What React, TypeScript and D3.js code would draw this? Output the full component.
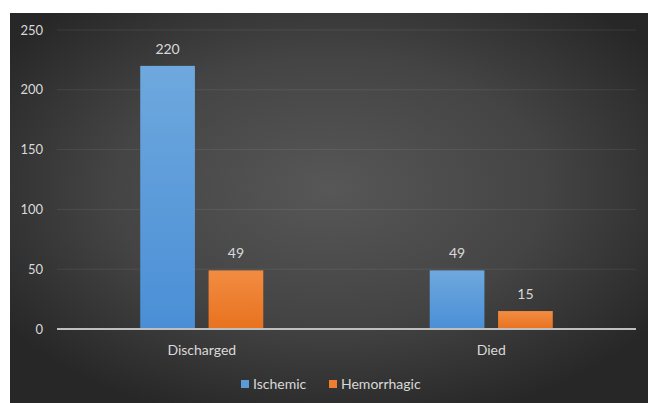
import React from "react";
import * as d3 from "d3";

const categories = ["Discharged", "Died"];
const seriesNames = ["Ischemic", "Hemorrhagic"];
const ischemic = [220, 49];
const hemorrhagic = [49, 15];
const yTicks = [0, 50, 100, 150, 200, 250];

const W = 648;
const H = 403;
const frame = { x: 10, y: 13, w: 638, h: 390 };
const plot = { left: 57, right: 636, top: 30, bottom: 329 };
const font = "Lato, 'Open Sans', sans-serif";
const textColor = "#d9d9d9";

export default function App() {
  const x0 = d3
    .scaleBand<string>()
    .domain(categories)
    .range([plot.left, plot.right])
    .paddingInner(0.575)
    .paddingOuter(0.2875);
  const x1 = d3
    .scaleBand<string>()
    .domain(seriesNames)
    .range([0, x0.bandwidth()])
    .paddingInner(0.2);
  const y = d3.scaleLinear().domain([0, 250]).range([plot.bottom, plot.top]);

  const series = [
    { name: seriesNames[0], values: ischemic, fill: "url(#gBlue)" },
    { name: seriesNames[1], values: hemorrhagic, fill: "url(#gOrange)" },
  ];

  const legendItems = [
    { name: seriesNames[0], color: "#5b9bd5", x: 241 },
    { name: seriesNames[1], color: "#ed7d31", x: 329 },
  ];

  return (
    <svg
      width={W}
      height={H}
      style={{ position: "fixed", left: 0, top: 0, background: "#fff" }}
    >
      <defs>
        <radialGradient id="bg" cx="0.5" cy="0.45" r="0.62">
          <stop offset="0" stopColor="#575757" />
          <stop offset="0.55" stopColor="#444" />
          <stop offset="1" stopColor="#272727" />
        </radialGradient>
        <linearGradient id="gBlue" x1="0" y1="0" x2="0" y2="1">
          <stop offset="0" stopColor="#6ea8de" />
          <stop offset="1" stopColor="#4a8fd6" />
        </linearGradient>
        <linearGradient id="gOrange" x1="0" y1="0" x2="0" y2="1">
          <stop offset="0" stopColor="#f28c42" />
          <stop offset="1" stopColor="#e8721f" />
        </linearGradient>
      </defs>
      <rect x={frame.x} y={frame.y} width={frame.w} height={frame.h} fill="url(#bg)" />

      {yTicks.map((t) => (
        <g key={t}>
          {t > 0 && (
            <line
              x1={plot.left}
              x2={plot.right}
              y1={y(t)}
              y2={y(t)}
              stroke="#ffffff"
              strokeOpacity={0.08}
              strokeWidth={1}
            />
          )}
          <text
            x={43}
            y={y(t)}
            dy="0.35em"
            textAnchor="end"
            fontFamily={font}
            fontSize={13}
            fill={textColor}
          >
            {t}
          </text>
        </g>
      ))}

      {series.map((s) =>
        categories.map((c, i) => {
          const bx = (x0(c) ?? 0) + (x1(s.name) ?? 0);
          const by = y(s.values[i]);
          return (
            <g key={s.name + c}>
              <rect
                x={bx}
                y={by}
                width={x1.bandwidth()}
                height={plot.bottom - by}
                fill={s.fill}
              />
              <text
                x={bx + x1.bandwidth() / 2}
                y={by - 12}
                textAnchor="middle"
                fontFamily={font}
                fontSize={14}
                fill={textColor}
              >
                {s.values[i]}
              </text>
            </g>
          );
        })
      )}

      <line
        x1={plot.left}
        x2={plot.right}
        y1={plot.bottom}
        y2={plot.bottom}
        stroke="#bfbfbf"
        strokeWidth={2}
      />

      {categories.map((c) => (
        <text
          key={c}
          x={(x0(c) ?? 0) + x0.bandwidth() / 2}
          y={350}
          dy="0.35em"
          textAnchor="middle"
          fontFamily={font}
          fontSize={14}
          fill={textColor}
        >
          {c}
        </text>
      ))}

      {legendItems.map((l) => (
        <g key={l.name}>
          <rect x={l.x} y={380} width={8} height={8} fill={l.color} />
          <text
            x={l.x + 12}
            y={384}
            dy="0.35em"
            fontFamily={font}
            fontSize={14}
            fill={textColor}
          >
            {l.name}
          </text>
        </g>
      ))}
    </svg>
  );
}
